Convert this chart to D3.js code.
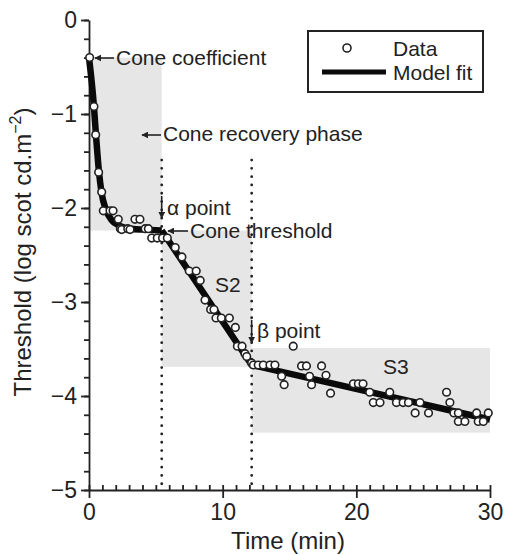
<!DOCTYPE html>
<html><head><meta charset="utf-8">
<script src="https://cdn.jsdelivr.net/npm/d3@7"></script>
<style>
body{margin:0;background:#fff;}
svg{display:block;font-family:"Liberation Sans",Arial,Helvetica,sans-serif;}
</style></head>
<body><svg id="c" width="507" height="555"></svg>
<script>
// ---- data ----
const dataT = [0.05,0.37,0.5,0.72,0.95,1.07,1.57,1.8,2.19,2.35,2.45,2.9,3.07,3.44,3.81,4.2,4.44,
  4.69,5.11,5.5,5.86,6.45,6.95,7.5,8.02,8.32,8.68,9.1,9.35,9.5,9.9,10.5,10.95,11.1,11.45,11.67,11.8,12.17,
  12.3,12.66,13.04,13.54,13.91,14.41,14.6,15.28,15.9,16.27,16.5,16.65,17.4,17.73,18.07,19.78,20.15,20.5,
  21.0,21.27,21.77,22.5,23.0,23.5,23.9,24.4,24.76,25.4,26.75,27.0,27.3,27.63,27.63,28.12,29.0,29.12,29.5,29.87];
const dataV = [-0.40,-0.92,-1.22,-1.62,-1.83,-2.03,-2.03,-2.03,-2.12,-2.22,-2.23,-2.22,-2.23,-2.12,-2.12,-2.22,-2.22,
  -2.32,-2.32,-2.32,-2.32,-2.42,-2.52,-2.67,-2.67,-2.77,-2.98,-3.08,-3.08,-3.17,-3.17,-3.17,-3.27,-3.47,-3.47,-3.55,-3.58,-3.65,
  -3.67,-3.67,-3.67,-3.67,-3.67,-3.79,-3.88,-3.47,-3.68,-3.68,-3.79,-3.88,-3.68,-3.78,-3.97,-3.87,-3.87,-3.87,
  -3.96,-4.07,-4.07,-3.96,-4.07,-4.07,-4.07,-4.18,-4.07,-4.18,-3.96,-4.07,-4.18,-4.18,-4.27,-4.27,-4.18,-4.27,-4.27,-4.18];
// model fit: recovery curve (smooth) then two linear segments (S2, S3)
const fitCurveT = [0,0.37,0.52,0.75,0.93,1.27,1.7,2.3,3.0,4.2,5.44];
const fitCurveV = [-0.40,-0.92,-1.22,-1.62,-1.83,-2.02,-2.13,-2.19,-2.22,-2.23,-2.24];
const fitLinT = [5.44,12.17,30];
const fitLinV = [-2.24,-3.67,-4.25];
// shaded phases
const phaseNames = ["cone","S2","S3"];
const phaseT0 = [0,5.44,12.17];
const phaseT1 = [5.44,12.17,30];
const phaseVtop = [-0.40,-2.24,-3.49];
const phaseVbot = [-2.24,-3.69,-4.39];
const alphaT = 5.44, betaT = 12.17;
const xTicksMajor = [0,10,20,30];
const yTicksMajor = [0,-1,-2,-3,-4,-5];

// ---- scales ----
const svg = d3.select("#c");
const x = d3.scaleLinear().domain([0,30]).range([89,490]);
const y = d3.scaleLinear().domain([0,-5]).range([20,490]);
const ink = "#222";

svg.append("g").selectAll("rect").data(phaseNames).join("rect")
  .attr("x",(d,i)=>x(phaseT0[i])).attr("width",(d,i)=>x(phaseT1[i])-x(phaseT0[i]))
  .attr("y",(d,i)=>y(phaseVtop[i])).attr("height",(d,i)=>y(phaseVbot[i])-y(phaseVtop[i]))
  .attr("fill","#e6e6e6");

// dotted verticals
svg.append("g").selectAll("line").data([alphaT,betaT]).join("line")
  .attr("x1",d=>x(d)).attr("x2",d=>x(d)).attr("y1",y(-1.49)).attr("y2",y(-5))
  .attr("stroke",ink).attr("stroke-width",2.8).attr("stroke-linecap","round")
  .attr("stroke-dasharray","0 8.3");

// axes
const gx = svg.append("g").attr("transform",`translate(0,${y(-5)})`);
gx.call(d3.axisBottom(x).tickValues(xTicksMajor).tickFormat(d3.format("d")).tickSize(8).tickSizeOuter(0).tickPadding(5));
gx.append("g").call(d3.axisTop(x).tickValues(d3.range(0,31,1)).tickSize(5).tickFormat(""))
  .select(".domain").remove();
const gy = svg.append("g").attr("transform",`translate(${x(0)},0)`);
gy.call(d3.axisLeft(y).tickValues(yTicksMajor).tickFormat(d3.format("d")).tickSize(8).tickSizeOuter(0).tickPadding(4));
gy.append("g").call(d3.axisLeft(y).tickValues(d3.range(0,-5.01,-0.2)).tickSize(5).tickFormat(""))
  .select(".domain").remove();
svg.selectAll(".domain,.tick line").attr("stroke",ink).attr("stroke-width",1.8);
svg.selectAll(".tick text").attr("fill",ink).attr("font-size",23).attr("font-family",null);
gx.selectAll(".tick text").attr("dy","0.75em");

// axis titles
svg.append("text").attr("x",288).attr("y",549).attr("text-anchor","middle")
  .attr("font-size",24).attr("fill",ink).text("Time (min)");
const yl = svg.append("text").attr("transform","translate(31,252) rotate(-90)")
  .attr("text-anchor","middle").attr("font-size",24).attr("fill",ink);
yl.append("tspan").text("Threshold (log scot cd.m");
yl.append("tspan").attr("font-size",16).attr("dy",-10).text("−2");
yl.append("tspan").attr("dy",10).text(")");

// model fit
const lineC = d3.line().x((d,i)=>x(fitCurveT[i])).y((d,i)=>y(fitCurveV[i])).curve(d3.curveMonotoneX);
const lineL = d3.line().x((d,i)=>x(fitLinT[i])).y((d,i)=>y(fitLinV[i]));
const fitG = svg.append("g").attr("fill","none").attr("stroke","#0a0a0a").attr("stroke-width",6.5)
  .attr("stroke-linejoin","round").attr("stroke-linecap","butt");
fitG.append("path").attr("d",lineC(fitCurveT));
fitG.append("path").attr("d",lineL(fitLinT));

// data points
svg.append("g").selectAll("circle").data(dataT).join("circle")
  .attr("cx",d=>x(d)).attr("cy",(d,i)=>y(dataV[i])).attr("r",3.8)
  .attr("fill","#fff").attr("stroke",ink).attr("stroke-width",1.6);

// arrow marker
const defs = svg.append("defs");
defs.append("marker").attr("id","ah").attr("viewBox","0 0 10 10").attr("refX",9).attr("refY",5)
  .attr("markerWidth",7).attr("markerHeight",7).attr("markerUnits","userSpaceOnUse").attr("orient","auto")
  .append("path").attr("d","M0,0L10,5L0,10z").attr("fill",ink);
function arrow(x1,y1,x2,y2){
  svg.append("line").attr("x1",x1).attr("y1",y1).attr("x2",x2).attr("y2",y2)
    .attr("stroke",ink).attr("stroke-width",1.6).attr("marker-end","url(#ah)");
}
function label(tx,ty,s,fs){
  return svg.append("text").attr("x",tx).attr("y",ty).attr("font-size",fs||21).attr("fill",ink).text(s);
}
arrow(114,58,95,58); label(116,65,"Cone coefficient");
arrow(161,135,142,135); label(163,141,"Cone recovery phase");
arrow(x(alphaT),196,x(alphaT),218); label(167,215,"α point");
arrow(188,231,168,231); label(190,238,"Cone threshold");
arrow(x(betaT),320,x(betaT),343); label(257,338,"β point");
label(215,292,"S2");
label(383,374,"S3");

// legend
const lg = svg.append("g");
lg.append("rect").attr("x",308).attr("y",31).attr("width",175).attr("height",61)
  .attr("fill","#fff").attr("stroke",ink).attr("stroke-width",2);
lg.append("circle").attr("cx",347).attr("cy",48).attr("r",4).attr("fill","#fff").attr("stroke",ink).attr("stroke-width",1.6);
lg.append("line").attr("x1",322).attr("x2",386).attr("y1",72).attr("y2",72).attr("stroke","#0a0a0a").attr("stroke-width",5);
lg.append("text").attr("x",393).attr("y",56).attr("font-size",21).attr("fill",ink).text("Data");
lg.append("text").attr("x",393).attr("y",80).attr("font-size",21).attr("fill",ink).text("Model fit");
</script></body></html>
